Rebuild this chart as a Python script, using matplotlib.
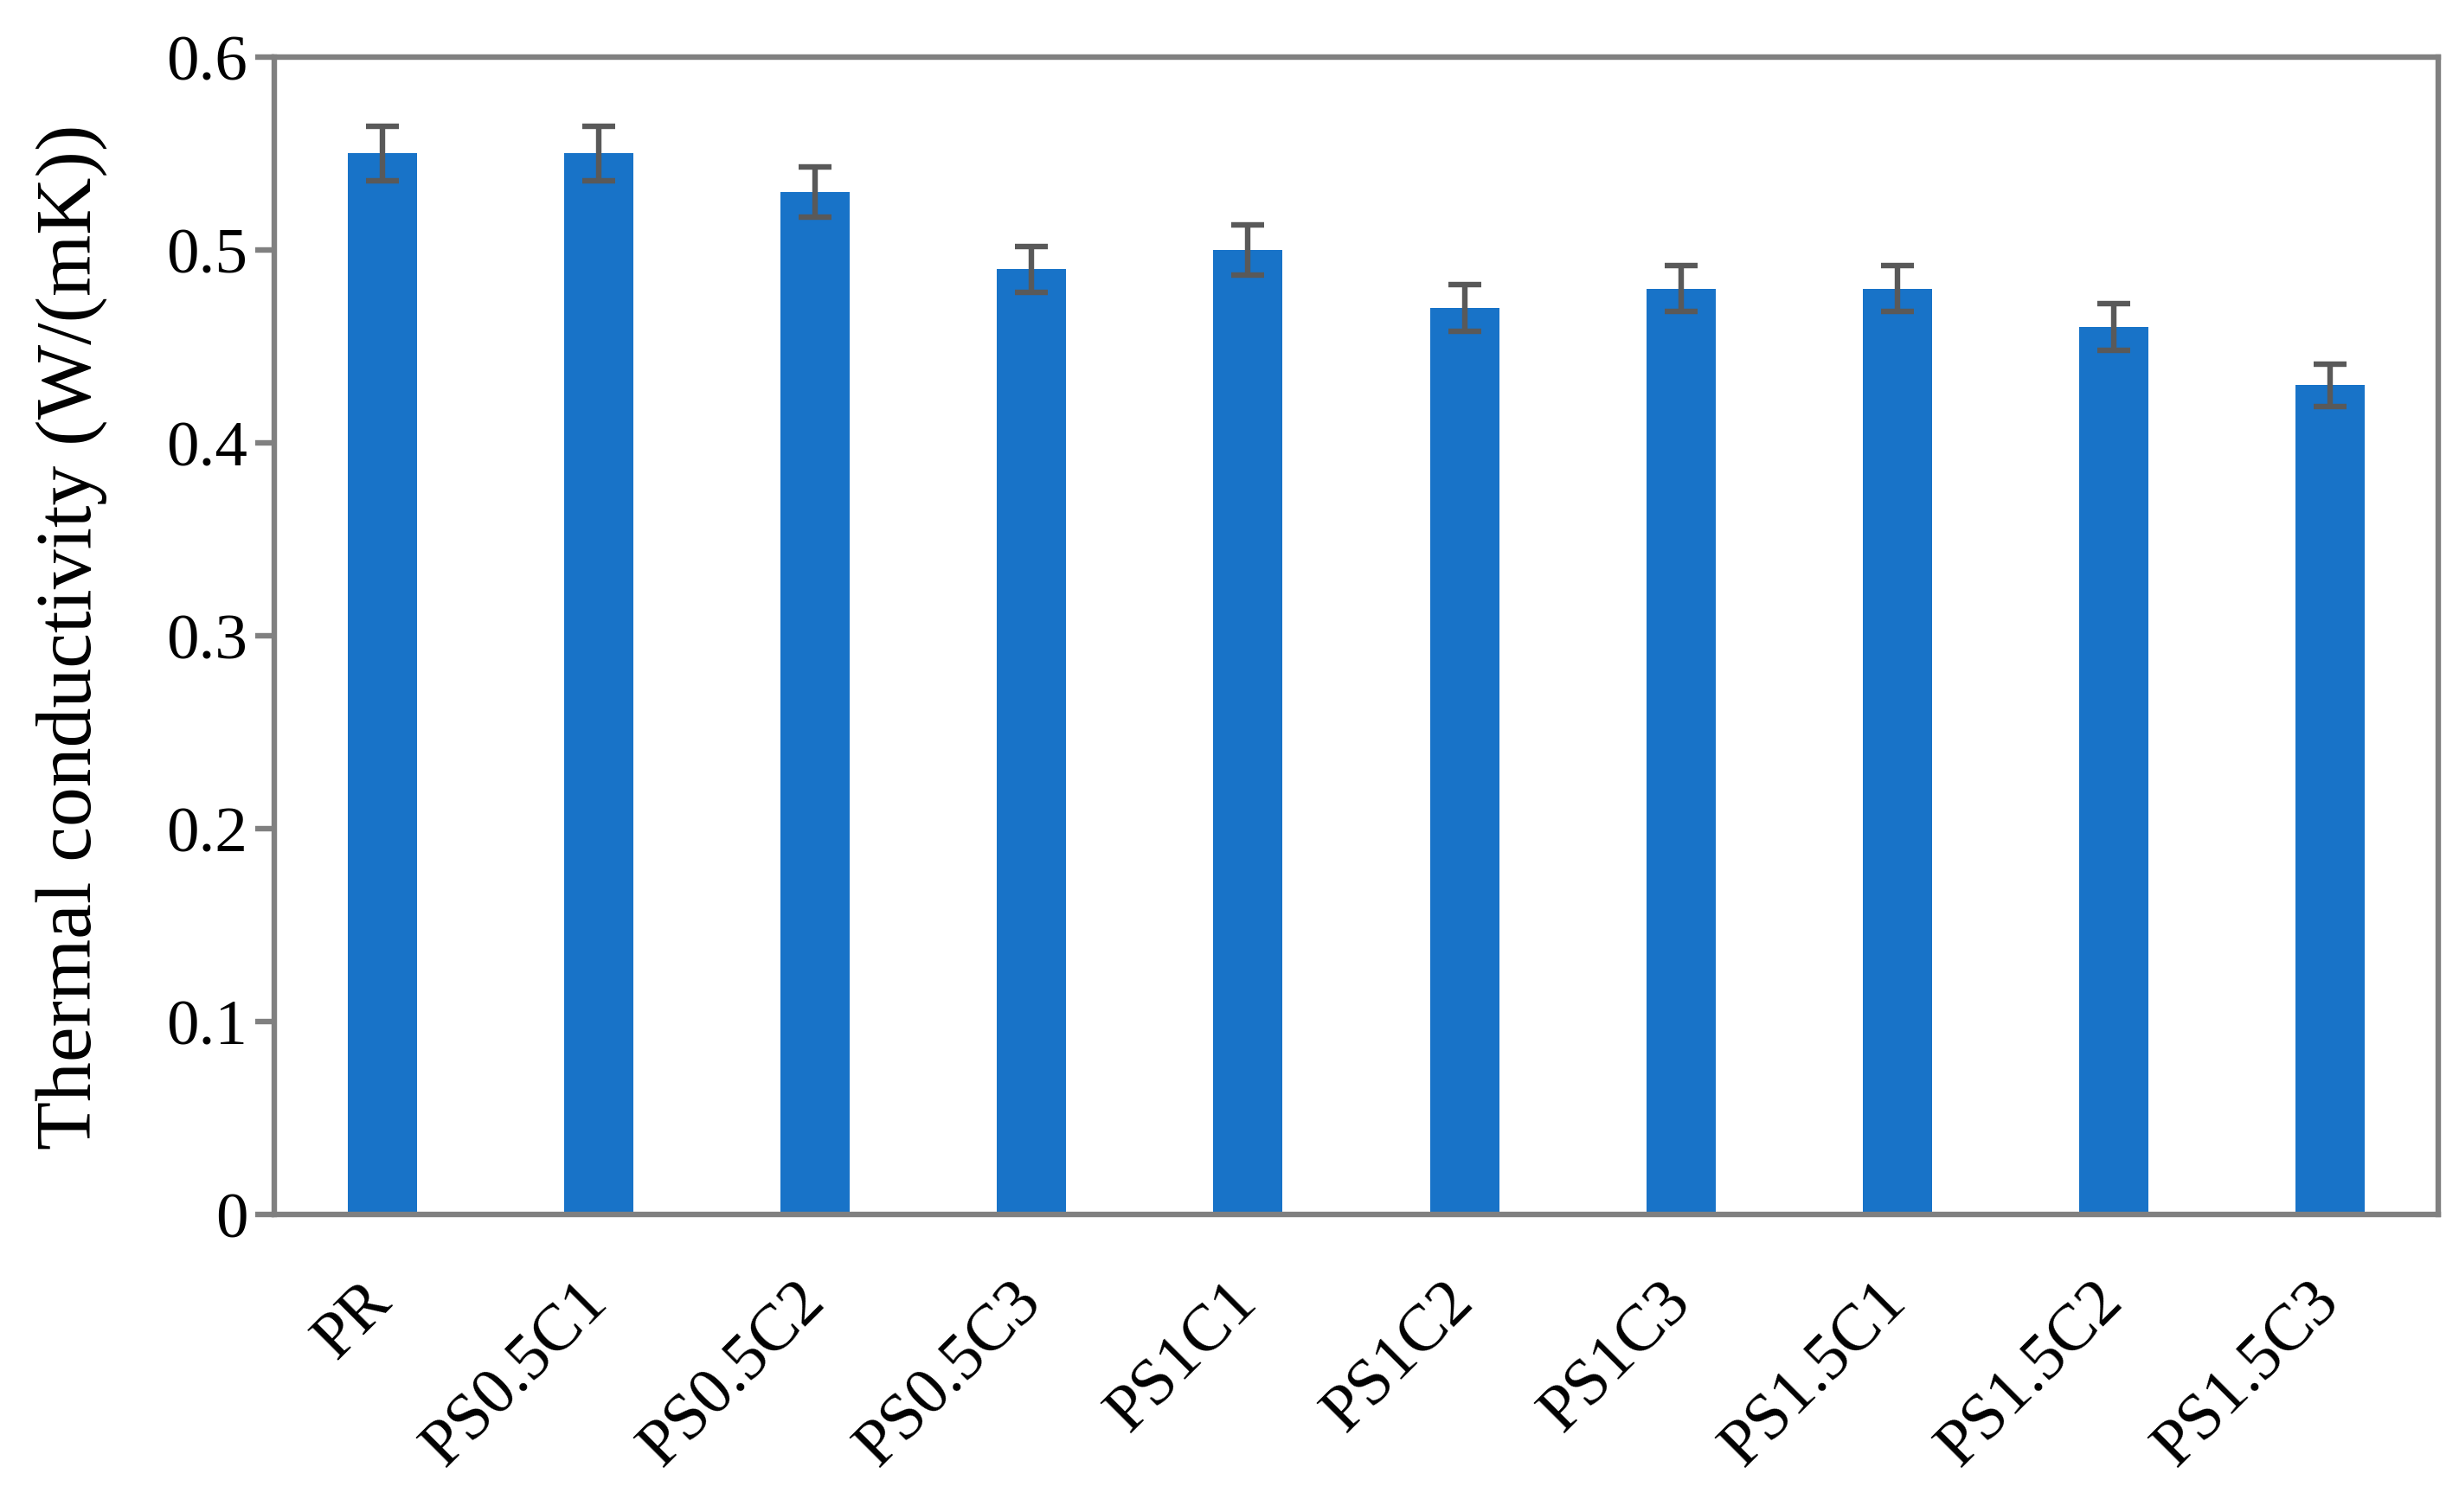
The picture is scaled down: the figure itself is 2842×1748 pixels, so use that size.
import numpy as np
import matplotlib
matplotlib.use("Agg")
import matplotlib.pyplot as plt
import matplotlib.transforms as mtransforms

# data
samples = ["PR", "PS0.5C1", "PS0.5C2", "PS0.5C3", "PS1C1",
           "PS1C2", "PS1C3", "PS1.5C1", "PS1.5C2", "PS1.5C3"]
conductivity = [0.55, 0.55, 0.53, 0.49, 0.50, 0.47, 0.48, 0.48, 0.46, 0.43]
error = [0.014, 0.014, 0.013, 0.012, 0.013, 0.012, 0.012, 0.012, 0.012, 0.011]
yticks = [0, 0.1, 0.2, 0.3, 0.4, 0.5, 0.6]

plt.rcParams['font.family'] = ['Liberation Serif', 'DejaVu Serif']

fig = plt.figure(figsize=(14.21, 8.745), dpi=200)
ax = fig.add_axes([0.1115, 0.1967, 0.9916 - 0.1115, 0.9617 - 0.1967])

x = np.arange(len(samples))
ax.bar(x, conductivity, width=0.32, color='#1873C8', zorder=2)
ax.errorbar(x, conductivity, yerr=error, fmt='none', ecolor='#595959',
            elinewidth=2.3, capsize=7, capthick=2.3, zorder=3)

ax.set_xlim(-0.5, len(samples) - 0.5)
ax.set_ylim(0, 0.6)
ax.set_yticks(yticks)
ax.set_yticklabels([f"{v:g}" for v in yticks])
ax.set_xticks(x)
ax.set_xticklabels(samples, rotation=45, ha='right', va='center',
                   rotation_mode='anchor')

# nudge the rotated labels a bit to the right, like the reference
shift = mtransforms.ScaledTranslation(5 / 72, 0, fig.dpi_scale_trans)
for lab in ax.get_xticklabels():
    lab.set_transform(lab.get_transform() + shift)

for s in ax.spines.values():
    s.set_color('#808080')
    s.set_linewidth(2.3)

ax.tick_params(axis='y', length=8, width=2.3, color='#808080', pad=3,
               labelsize=27, direction='out')
ax.tick_params(axis='x', length=0, pad=32, labelsize=27.5)

ax.set_ylabel("Thermal conductivity (W/(mK))", fontsize=33)
ax.yaxis.set_label_coords(-0.077, 0.5)

fig.savefig("out.png", dpi=200, facecolor='white')
